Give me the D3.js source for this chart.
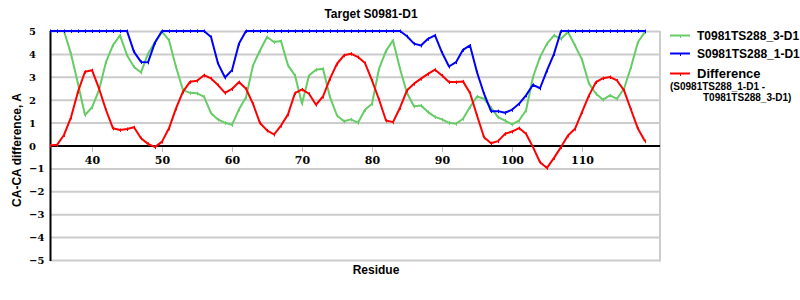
<!DOCTYPE html>
<html>
<head>
<meta charset="utf-8">
<script src="https://cdn.jsdelivr.net/npm/d3@7"></script>
<style>
    body { margin: 0; background: #fff; }
    text { font-family: "Liberation Sans", Arial, sans-serif; font-weight: bold; }
    .tick-label { font-family: "DejaVu Serif", serif; }
</style>
</head>
<body>
<svg id="chart" width="800" height="300"></svg>
<script>
// Residue numbers along the x axis
const residues = [34, 35, 36, 37, 38, 39, 40, 41, 42, 43, 44, 45, 46, 47, 48, 49,
    50, 51, 52, 53, 54, 55, 56, 57, 58, 59, 60, 61, 62, 63, 64, 65, 66, 67, 68, 69,
    70, 71, 72, 73, 74, 75, 76, 77, 78, 79, 80, 81, 82, 83, 84, 85, 86, 87, 88, 89,
    90, 91, 92, 93, 94, 95, 96, 97, 98, 99, 100, 101, 102, 103, 104, 105, 106, 107,
    108, 109, 110, 111, 112, 113, 114, 115, 116, 117, 118, 119];

// T0981TS288_3-D1 (green)
const t3Values = [5, 5, 5, 4.0, 2.7, 1.33, 1.67, 2.42, 3.65, 4.38, 4.81, 3.94, 3.43, 3.19, 4.01, 4.52,
    4.96, 4.6, 3.43, 2.42, 2.3, 2.28, 2.13, 1.41, 1.14, 0.99, 0.9, 1.58, 2.11, 3.5, 4.15, 4.74, 4.52, 4.56, 3.5, 3.06,
    1.82, 3.06, 3.31, 3.35, 2.11, 1.31, 1.06, 1.14, 0.99, 1.56, 1.82, 3.35, 4.13, 4.59, 3.35, 2.29, 1.71, 1.75, 1.46, 1.25,
    1.14, 0.99, 0.95, 1.17, 1.68, 2.14, 2.04, 1.65, 1.24, 1.09, 0.92, 1.09, 1.53, 2.99, 3.86, 4.45, 4.81, 4.66,
    4.96, 4.37, 3.75, 2.7, 2.26, 2.0, 2.19, 2.04, 2.48, 3.43, 4.52, 4.96];

// S0981TS288_1-D1 (blue)
const s1Values = [5, 5, 5, 5, 5, 5, 5, 5, 5, 5, 5, 5, 4.09, 3.65, 3.63, 4.5,
    5, 5, 5, 5, 5, 5, 5, 4.74, 3.58, 2.97, 3.29, 4.45, 5, 5, 5, 5, 5, 5, 5, 5,
    5, 5, 5, 5, 5, 5, 5, 5, 5, 5, 5, 5, 5, 5, 5, 4.77, 4.45, 4.37, 4.66, 4.81,
    4.06, 3.45, 3.64, 4.18, 4.37, 3.2, 2.26, 1.5, 1.5, 1.43, 1.56, 1.82, 2.19, 2.65, 2.5, 3.28, 4.0, 5,
    5, 5, 5, 5, 5, 5, 5, 5, 5, 5, 5, 5];

// Difference (S0981TS288_1-D1 - T0981TS288_3-D1) (red)
const diffValues = [0, 0.03, 0.46, 1.23, 2.35, 3.22, 3.29, 2.49, 1.55, 0.75, 0.68, 0.72, 0.8, 0.32, 0.07, -0.07,
    0.17, 0.75, 1.62, 2.35, 2.78, 2.83, 3.07, 2.93, 2.64, 2.3, 2.47, 2.77, 2.48, 1.82, 0.98, 0.66, 0.48, 0.87, 1.36, 2.29,
    2.45, 2.26, 1.78, 2.14, 2.92, 3.57, 3.94, 4.01, 3.86, 3.6, 2.84, 2.01, 1.09, 1.02, 1.65, 2.41, 2.7, 2.92, 3.13, 3.31,
    3.06, 2.77, 2.77, 2.8, 2.29, 1.31, 0.36, 0.1, 0.19, 0.51, 0.61, 0.76, 0.51, -0.07, -0.73, -0.98, -0.54, -0.07,
    0.44, 0.73, 1.46, 2.19, 2.77, 2.94, 2.99, 2.84, 2.41, 1.56, 0.73, 0.19];

const xTicks = [40, 50, 60, 70, 80, 90, 100, 110];
const yTicks = [-5, -4, -3, -2, -1, 0, 1, 2, 3, 4, 5];

const series = [
    {name: 'T0981TS288_3-D1', color: '#66cc66', values: t3Values},
    {name: 'S0981TS288_1-D1', color: '#0000ff', values: s1Values},
    {name: 'Difference', color: '#ff0000', values: diffValues}
];

const svg = d3.select('#chart');
const plot = {left: 50, right: 659, top: 31, bottom: 260};

const x = d3.scaleLinear().domain([34, 121]).range([plot.left, plot.right]);
const y = d3.scaleLinear().domain([-5, 5]).range([plot.bottom, plot.top]);

// horizontal grid lines
svg.append('g')
    .selectAll('line')
    .data(yTicks.filter(d => d !== 0))
    .join('line')
        .attr('x1', plot.left)
        .attr('x2', plot.right + 1)
        .attr('y1', d => y(d) + 0.5)
        .attr('y2', d => y(d) + 0.5)
        .attr('stroke', '#cccccc')
        .attr('stroke-width', 2);

// right border
svg.append('line')
    .attr('x1', plot.right + 1).attr('x2', plot.right + 1)
    .attr('y1', plot.top).attr('y2', plot.bottom + 1.5)
    .attr('stroke', '#cccccc')
    .attr('stroke-width', 2);

// y tick labels (left aligned like the original)
svg.append('g')
    .selectAll('text')
    .data(yTicks)
    .join('text')
        .attr('class', 'tick-label')
        .attr('x', 29)
        .attr('y', d => y(d) + 4)
        .style('font-size', '10px')
        .text(d => d < 0 ? '\u2212' + Math.abs(d) : d);

// x axis on the zero line
const xAxis = d3.axisBottom(x)
    .tickValues(xTicks)
    .tickSize(6)
    .tickPadding(4)
    .tickSizeOuter(0);

const gx = svg.append('g')
    .attr('transform', 'translate(0,' + (y(0) + 0.5) + ')')
    .call(xAxis);
gx.select('.domain').remove();
gx.selectAll('.tick line').attr('stroke', '#bbbbbb');
gx.selectAll('.tick text')
    .attr('class', 'tick-label')
    .attr('fill', '#000')
    .style('font-size', '11px')
    .style('font-weight', 'bold');

svg.append('line')
    .attr('x1', plot.left).attr('x2', plot.right + 1)
    .attr('y1', y(0) + 0.5).attr('y2', y(0) + 0.5)
    .attr('stroke', '#000')
    .attr('stroke-width', 2);

// y axis line
svg.append('line')
    .attr('x1', plot.left + 0.5).attr('x2', plot.left + 0.5)
    .attr('y1', plot.top).attr('y2', plot.bottom + 1)
    .attr('stroke', '#000')
    .attr('stroke-width', 2);

// series
svg.append('defs').append('clipPath')
    .attr('id', 'plot-clip')
    .append('rect')
        .attr('x', plot.left)
        .attr('y', plot.top - 3)
        .attr('width', plot.right - plot.left)
        .attr('height', plot.bottom - plot.top + 6);

const lines = svg.append('g').attr('clip-path', 'url(#plot-clip)');
const line = d3.line()
    .x((d, i) => x(residues[i]))
    .y(d => y(d));

for (let s of series) {
    lines.append('path')
        .datum(s.values)
        .attr('fill', 'none')
        .attr('stroke', s.color)
        .attr('stroke-width', 2)
        .attr('stroke-linejoin', 'round')
        .attr('d', line);

    // tiny tick markers at each residue
    lines.append('g')
        .selectAll('path')
        .data(s.values)
        .join('path')
            .attr('d', (d, i) => {
                let px = Math.round(x(residues[i])) + 0.5, py = y(d);
                return 'M' + px + ',' + (py - 1.5) + 'v3.5';
            })
            .attr('stroke', s.color)
            .attr('stroke-width', 1);
}

// titles
svg.append('text')
    .attr('x', 371).attr('y', 18)
    .attr('text-anchor', 'middle')
    .style('font-size', '12px')
    .text('Target S0981-D1');

svg.append('text')
    .attr('x', 376).attr('y', 274)
    .attr('text-anchor', 'middle')
    .style('font-size', '12px')
    .text('Residue');

svg.append('text')
    .attr('transform', 'translate(21,150) rotate(-90)')
    .attr('text-anchor', 'middle')
    .style('font-size', '12px')
    .text('CA-CA difference, A');

// legend
const legendY = [35, 53, 73];
const legend = svg.append('g');
series.forEach((s, i) => {
    legend.append('line')
        .attr('x1', 670).attr('x2', 690)
        .attr('y1', legendY[i] + 0.5).attr('y2', legendY[i] + 0.5)
        .attr('stroke', s.color)
        .attr('stroke-width', 2);
    legend.append('line')
        .attr('x1', 680.5).attr('x2', 680.5)
        .attr('y1', legendY[i] + 1).attr('y2', legendY[i] + 3)
        .attr('stroke', s.color);
    legend.append('text')
        .attr('x', 697)
        .attr('y', legendY[i] + (i === 2 ? 5 : 4.5))
        .style('font-size', i === 2 ? '13px' : '12px')
        .text(s.name);
});
legend.append('text')
    .attr('x', 670).attr('y', 90)
    .style('font-size', '10px')
    .text('(S0981TS288_1-D1 -');
legend.append('text')
    .attr('x', 703).attr('y', 101)
    .style('font-size', '10px')
    .text('T0981TS288_3-D1)');
</script>
</body>
</html>
